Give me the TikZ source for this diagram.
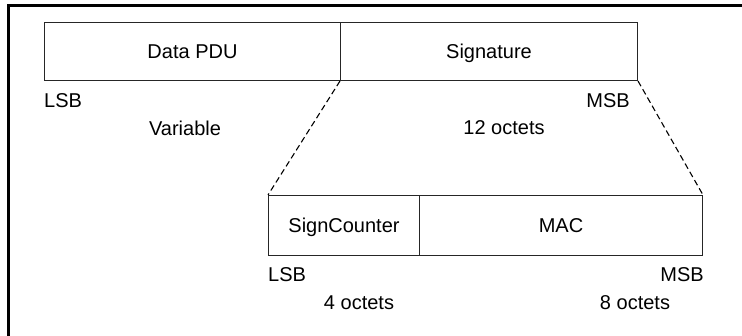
\documentclass[tikz,border=0pt]{standalone}
\usepackage{fontspec}
\setmainfont{Liberation Sans}
\begin{document}
\begin{tikzpicture}[x=1pt,y=-1pt,
  field/.style={draw=black!85,line width=1pt,inner sep=0pt,anchor=north west,text height=14.3pt,text depth=0pt},
  lbl/.style={inner sep=0pt,font=\fontsize{20}{24}\selectfont},
  guide/.style={line width=1.1pt,dash pattern=on 6pt off 3.5pt}]
\useasboundingbox (0,0) rectangle (742,336);
\fill[white] (0,0) rectangle (742,336);
% frame (left and top only)
\draw[line width=3pt,line cap=rect] (8,336) -- (8,6) -- (742,6);
% top fields
\node[field,minimum width=296pt,minimum height=58pt,lbl] (pdu) at (44,22) {Data PDU};
\node[field,minimum width=297pt,minimum height=58pt,lbl] (sig) at (340,22) {Signature};
% bottom fields
\node[field,minimum width=151pt,minimum height=60pt,lbl] (cnt) at (268,195) {SignCounter};
\node[field,minimum width=283pt,minimum height=60pt,lbl] (mac) at (419,195) {MAC};
% expansion guides
\draw[guide] (sig.south west) -- (cnt.north west);
\draw[guide] (sig.south east) -- (mac.north east);
% labels
\node[lbl,anchor=west] (lsb1) at (44,101) {LSB};
\node[lbl] (var) at (185,128) {Variable};
\node[lbl,anchor=east] (msb1) at (630,101) {MSB};
\node[lbl] (oct12) at (504,128) {12 octets};
\node[lbl,anchor=west] (lsb2) at (268,275) {LSB};
\node[lbl,anchor=east] (msb2) at (704,275) {MSB};
\node[lbl] (oct4) at (359,303) {4 octets};
\node[lbl] (oct8) at (635,303) {8 octets};
\end{tikzpicture}
\end{document}
